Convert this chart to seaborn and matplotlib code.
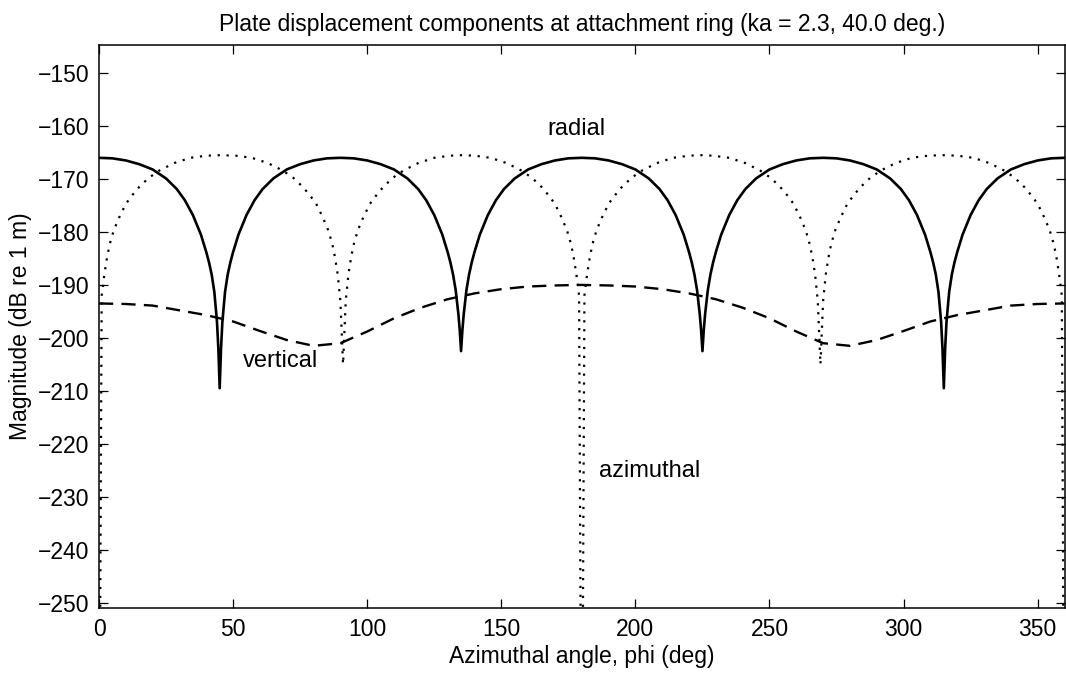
import matplotlib
matplotlib.use("Agg")
import matplotlib.pyplot as plt
import seaborn as sns
import pandas as pd

# ---------------- data ----------------
radial_phi = [0, 5, 10, 15, 20, 25, 29, 32, 35, 38, 40, 41, 42, 43, 44, 44.5, 45, 45.5, 46, 47, 48, 49, 50, 52, 55, 58, 61, 65, 70, 75, 80, 85, 90,
              95, 100, 105, 110, 115, 119, 122, 125, 128, 130, 131, 132, 133, 134, 134.5, 135, 135.5, 136, 137, 138, 139, 140, 142, 145, 148, 151, 155, 160, 165, 170, 175, 180,
              185, 190, 195, 200, 205, 209, 212, 215, 218, 220, 221, 222, 223, 224, 224.5, 225, 225.5, 226, 227, 228, 229, 230, 232, 235, 238, 241, 245, 250, 255, 260, 265, 270,
              275, 280, 285, 290, 295, 299, 302, 305, 308, 310, 311, 312, 313, 314, 314.5, 315, 315.5, 316, 317, 318, 319, 320, 322, 325, 328, 331, 335, 340, 345, 350, 355, 360]
radial_db = [-166, -166.1, -166.5, -167.2, -168.2, -169.9, -171.9, -174, -176.8, -180.5, -183.8, -185.7, -188, -191.3, -197, -202, -209.5, -202, -197, -191.3, -188, -185.7, -183.8, -180.5, -176.8, -174, -171.9, -169.9, -168.2, -167.2, -166.5, -166.1, -166,
             -166.1, -166.5, -167.2, -168.2, -169.9, -171.9, -174, -176.8, -180.5, -183.8, -185.7, -188, -191, -195.5, -198.5, -202.5, -198.5, -195.5, -191, -188, -185.7, -183.8, -180.5, -176.8, -174, -171.9, -169.9, -168.2, -167.2, -166.5, -166.1, -166,
             -166.1, -166.5, -167.2, -168.2, -169.9, -171.9, -174, -176.8, -180.5, -183.8, -185.7, -188, -191, -195.5, -198.5, -202.5, -198.5, -195.5, -191, -188, -185.7, -183.8, -180.5, -176.8, -174, -171.9, -169.9, -168.2, -167.2, -166.5, -166.1, -166,
             -166.1, -166.5, -167.2, -168.2, -169.9, -171.9, -174, -176.8, -180.5, -183.8, -185.7, -188, -191.3, -197, -202, -209.5, -202, -197, -191.3, -188, -185.7, -183.8, -180.5, -176.8, -174, -171.9, -169.9, -168.2, -167.2, -166.5, -166.1, -166]

azim_phi = [0, 1, 2, 3, 4, 5.5, 7.5, 10, 12.5, 15, 18.5, 22.5, 28, 34, 40, 45.5, 51, 57, 63, 68.5, 72.5, 76, 78.5, 81, 83.5, 85.5, 87, 88, 89, 90, 91,
            92, 93, 94, 95, 96.5, 98.5, 101, 103.5, 106, 109.5, 113.5, 119, 125, 131, 135.5, 140, 146, 152, 157.5, 161.5, 165, 167.5, 170, 172.5, 174.5, 176, 177, 178, 179, 180,
            181, 182, 183, 184, 185.5, 187.5, 190, 192.5, 195, 198.5, 202.5, 208, 214, 220, 224.5, 229, 235, 241, 246.5, 250.5, 254, 256.5, 259, 261.5, 263.5, 265, 266, 267, 268, 269,
            270, 271, 272, 273, 274.5, 276.5, 279, 281.5, 284, 287.5, 291.5, 297, 303, 309, 314.5, 320, 326, 332, 337.5, 341.5, 345, 347.5, 350, 352.5, 354.5, 356, 357, 358, 359, 360]
azim_db = [-300, -192, -188, -184.8, -182.3, -179.7, -177.3, -174.7, -173, -171.5, -169.8, -168.4, -167, -166, -165.6, -165.5, -165.6, -166, -167, -168.4, -169.8, -171.5, -173, -174.7, -177.3, -179.7, -182.3, -184.8, -188, -193, -205,
           -193, -188, -184.8, -182.3, -179.7, -177.3, -174.7, -173, -171.5, -169.8, -168.4, -167, -166, -165.6, -165.5, -165.6, -166, -167, -168.4, -169.8, -171.5, -173, -174.7, -177.3, -179.7, -182.3, -184.8, -188, -192, -300,
           -192, -188, -184.8, -182.3, -179.7, -177.3, -174.7, -173, -171.5, -169.8, -168.4, -167, -166, -165.6, -165.5, -165.6, -166, -167, -168.4, -169.8, -171.5, -173, -174.7, -177.3, -179.7, -182.3, -184.8, -188, -193, -205,
           -193, -188, -184.8, -182.3, -179.7, -177.3, -174.7, -173, -171.5, -169.8, -168.4, -167, -166, -165.6, -165.5, -165.6, -166, -167, -168.4, -169.8, -171.5, -173, -174.7, -177.3, -179.7, -182.3, -184.8, -188, -192, -300]

vert_phi = [0, 10, 20, 30, 40, 50, 60, 70, 80, 90, 100, 110, 120, 130, 140, 150, 160, 170, 180,
            190, 200, 210, 220, 230, 240, 250, 260, 270, 280, 290, 300, 310, 320, 330, 340, 350, 360]
vert_db = [-193.5, -193.6, -193.9, -194.8, -195.7, -196.9, -198.7, -200.4, -201.5, -201.0, -198.8, -196.3, -194.3, -192.7, -191.6, -190.8, -190.3, -190.1, -190.0,
           -190.1, -190.3, -190.8, -191.6, -192.7, -194.3, -196.3, -198.8, -201.0, -201.5, -200.4, -198.7, -196.9, -195.7, -194.8, -193.9, -193.6, -193.5]

x_ticks = [0, 50, 100, 150, 200, 250, 300, 350]
y_ticks = [-150, -160, -170, -180, -190, -200, -210, -220, -230, -240, -250]

labels = ["radial", "vertical", "azimuthal"]
label_phi = [167, 53.5, 186.5]
label_db = [-160.6, -204.4, -225.2]

title = "Plate displacement components at attachment ring (ka = 2.3, 40.0 deg.)"
xlabel = "Azimuthal angle, phi (deg)"
ylabel = "Magnitude (dB re 1 m)"

# ---------------- plotting ----------------
sns.set_theme(style="ticks")
plt.rcParams["font.family"] = ["Liberation Sans", "DejaVu Sans"]
plt.rcParams["axes.unicode_minus"] = True
plt.rcParams["text.color"] = "black"
plt.rcParams["axes.labelcolor"] = "black"
plt.rcParams["xtick.color"] = "black"
plt.rcParams["ytick.color"] = "black"

fig = plt.figure(figsize=(10.66, 6.77), dpi=100)
ax = fig.add_axes([99 / 1066, 1 - 608 / 677, 965.5 / 1066, (608 - 45) / 677])

df_r = pd.DataFrame({"phi": radial_phi, "db": radial_db})
df_a = pd.DataFrame({"phi": azim_phi, "db": azim_db})
df_v = pd.DataFrame({"phi": vert_phi, "db": vert_db})

sns.lineplot(data=df_r, x="phi", y="db", ax=ax, color="black", lw=1.9,
             sort=False, estimator=None)
sns.lineplot(data=df_a, x="phi", y="db", ax=ax, color="black", lw=1.6,
             sort=False, estimator=None, linestyle=(0, (1, 3)))
sns.lineplot(data=df_v, x="phi", y="db", ax=ax, color="black", lw=1.7,
             sort=False, estimator=None, linestyle=(0, (6, 3.5)))

for t, px, py in zip(labels, label_phi, label_db):
    ax.text(px, py, t, fontsize=17, color="black", ha="left", va="center")

ax.set_xlim(0, 360)
ax.set_ylim(-251, -144.7)
ax.set_xticks(x_ticks)
ax.set_yticks(y_ticks)
ax.tick_params(direction="in", length=6.5, width=0.9, labelsize=16.5,
               top=True, right=True, colors="black", labelcolor="black", pad=7)
for s in ax.spines.values():
    s.set_visible(True)
    s.set_color("black")
    s.set_linewidth(1.1)

ax.set_xlabel(xlabel, fontsize=16.5, labelpad=3, color="black")
ax.set_ylabel(ylabel, fontsize=16.5, labelpad=4, color="black")
ax.set_title(title, fontsize=16.5, pad=10, color="black")
ax.grid(False)

fig.savefig("out.png", dpi=100)
